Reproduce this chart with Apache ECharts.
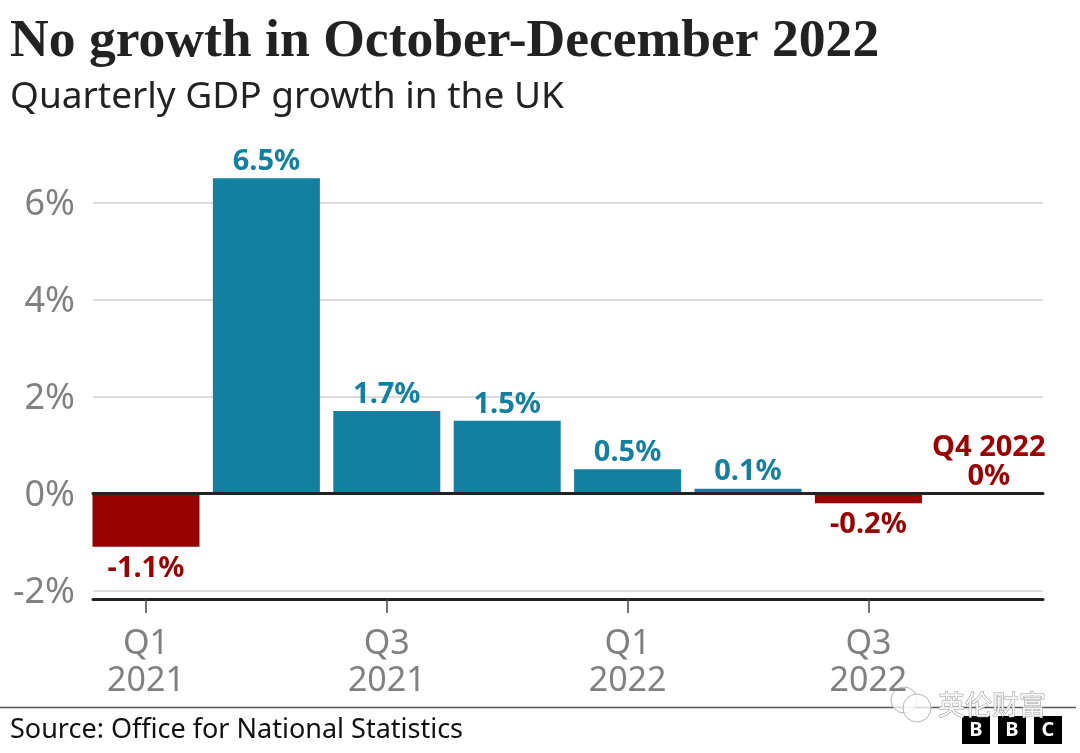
<!DOCTYPE html>
<html>
<head>
<meta charset="utf-8">
<style>
  html, body { margin: 0; padding: 0; background: #fff; }
  #chart { width: 1080px; height: 753px; }
</style>
<script src="https://cdn.jsdelivr.net/npm/echarts@6/dist/echarts.min.js"></script>
</head>
<body>
<div id="chart"></div>
<script>
const quarters = ['Q1 2021', 'Q2 2021', 'Q3 2021', 'Q4 2021', 'Q1 2022', 'Q2 2022', 'Q3 2022', 'Q4 2022'];
const growth = [-1.1, 6.5, 1.7, 1.5, 0.5, 0.1, -0.2, 0];
const pointLabels = ['-1.1%', '6.5%', '1.7%', '1.5%', '0.5%', '0.1%', '-0.2%', 'Q4 2022\n0%'];
const yTicks = [-2, 0, 2, 4, 6];
const xTicks = [0, 2, 4, 6];

const BLUE = '#1380a1';
const RED = '#990000';
const GREY = '#808080';
const INK = '#222222';
const SANS = '"Noto Sans", "Open Sans", sans-serif';

// the band scale has no outer gap in the original, so x is a value axis on quarter index
const xRange = { min: -0.44, max: 7.45 };

const chart = echarts.init(document.getElementById('chart'));

function logoBox(x, letter) {
    return {
        type: 'group',
        children: [
            { type: 'rect', shape: { x: x, y: 716, width: 28, height: 28 }, style: { fill: '#000' } },
            { type: 'text', style: { x: x + 14, y: 730, text: letter, fill: '#fff', font: 'bold 20px ' + SANS, align: 'center', verticalAlign: 'middle' } }
        ]
    };
}

function bubble(cx, cy, r) {
    return { type: 'circle', shape: { cx: cx, cy: cy, r: r }, style: { fill: 'rgba(255,255,255,0.75)', stroke: '#b5b5b5', lineWidth: 1 } };
}

chart.setOption({
    animation: false,
    backgroundColor: '#fff',
    title: [
        { text: 'No growth in October-December 2022', left: 10, top: 15, padding: 0, textStyle: { fontFamily: '"Liberation Serif", serif', fontWeight: 'bold', fontSize: 53.6, color: INK } },
        { text: 'Quarterly GDP growth in the UK', left: 10, top: 79, padding: 0, textStyle: { fontFamily: SANS, fontWeight: 'normal', fontSize: 37, color: INK } },
        { text: 'Source: Office for National Statistics', left: 10, top: 717, padding: 0, textStyle: { fontFamily: SANS, fontWeight: 'normal', fontSize: 27, color: '#111' } }
    ],
    grid: { left: 93, right: 37, top: 154, bottom: 154 },
    xAxis: [
        {
            type: 'value',
            min: xRange.min,
            max: xRange.max,
            position: 'bottom',
            axisLine: { onZero: false, lineStyle: { color: INK, width: 3 } },
            axisTick: { customValues: xTicks, length: 14, lineStyle: { color: '#444', width: 1.5 } },
            axisLabel: {
                customValues: xTicks,
                margin: 27,
                color: GREY,
                fontFamily: SANS,
                fontSize: 34,
                lineHeight: 37,
                formatter: v => quarters[v].replace(' ', '\n')
            },
            splitLine: { show: false }
        },
        {
            // the zero line, drawn over the bars
            type: 'value',
            min: xRange.min,
            max: xRange.max,
            z: 5,
            axisLine: { onZero: true, lineStyle: { color: INK, width: 3 } },
            axisTick: { show: false },
            axisLabel: { show: false },
            splitLine: { show: false }
        }
    ],
    yAxis: {
        type: 'value',
        min: -2.175,
        max: 7,
        axisLine: { show: false },
        axisTick: { show: false, customValues: yTicks },
        axisLabel: {
            customValues: yTicks,
            margin: 18,
            formatter: v => '{t|' + v + '%}',
            rich: {
                // nudges the text down to sit where the original's does
                t: { color: GREY, fontFamily: SANS, fontSize: 36, padding: [5, 0, 0, 0] }
            }
        },
        splitLine: { show: true, lineStyle: { color: '#dcdcdc', width: 2, type: 'solid' } }
    },
    series: [{
        type: 'bar',
        barWidth: 107,
        data: growth.map((v, i) => ({
            value: [i, v],
            itemStyle: { color: v > 0 ? BLUE : RED },
            label: {
                show: true,
                position: v < 0 ? 'bottom' : 'top',
                distance: v < 0 ? 7 : 2,
                formatter: pointLabels[i],
                color: v > 0 ? BLUE : RED,
                fontFamily: SANS,
                fontWeight: 'bold',
                fontSize: 29,
                lineHeight: 29
            }
        }))
    }],
    graphic: [
        { type: 'line', shape: { x1: 0, y1: 707.5, x2: 1076, y2: 707.5 }, style: { stroke: '#555', lineWidth: 1.5 } },
        logoBox(962, 'B'),
        logoBox(998, 'B'),
        logoBox(1034, 'C'),
        // account watermark sitting over the footer
        bubble(904, 700, 13),
        bubble(917, 708, 14),
        { type: 'text', style: { x: 938, y: 705, text: '英伦财富', fill: 'rgba(255,255,255,0.85)', stroke: '#9a9a9a', lineWidth: 1, font: '27px "Noto Sans CJK SC"', verticalAlign: 'middle' } }
    ]
});
</script>
</body>
</html>
